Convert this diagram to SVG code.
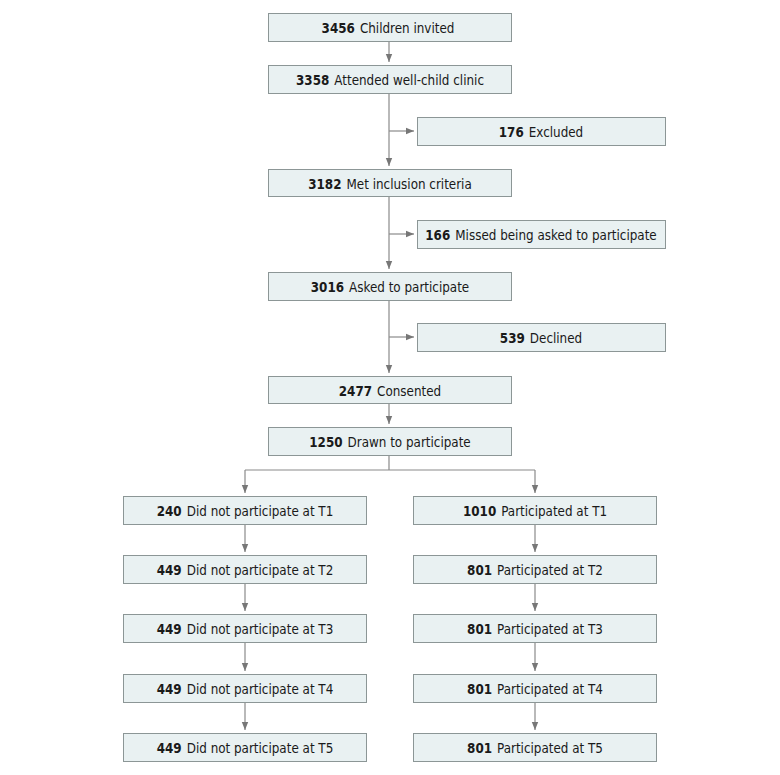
<svg xmlns="http://www.w3.org/2000/svg" width="780" height="775" viewBox="0 0 780 775">
<style>
.box{fill:#e9f1f2;stroke:#8c9696;stroke-width:1}
.t{font-family:"DejaVu Sans Condensed","Liberation Sans",Arial,sans-serif;font-size:13.3px;fill:#1a1a1a;text-anchor:middle}
.n{font-weight:bold}
.c{fill:none;stroke:#8a8a8a;stroke-width:1.2}
</style>
<defs>
<marker id="ah" viewBox="0 0 8 8" refX="8" refY="4" markerWidth="8" markerHeight="8" markerUnits="userSpaceOnUse" orient="auto">
<path d="M0,0.8 L8,4 L0,7.2 Z" fill="#777"/>
</marker>
</defs>
<rect width="780" height="775" fill="#fff"/>
<g id="connectors">
<path class="c" d="M389,41 V62" marker-end="url(#ah)"/>
<path class="c" d="M389,93 V166"  marker-end="url(#ah)"/>
<path class="c" d="M389,131 H414" marker-end="url(#ah)"/>
<path class="c" d="M389,196 V269" marker-end="url(#ah)"/>
<path class="c" d="M389,234 H414" marker-end="url(#ah)"/>
<path class="c" d="M389,300 V373" marker-end="url(#ah)"/>
<path class="c" d="M389,337 H414" marker-end="url(#ah)"/>
<path class="c" d="M389,403 V424" marker-end="url(#ah)"/>
<path class="c" d="M389,455 V470 M245,470 H535"/>
<path class="c" d="M245,470 V493" marker-end="url(#ah)"/>
<path class="c" d="M535,470 V493" marker-end="url(#ah)"/>
<path class="c" d="M245,524 V552" marker-end="url(#ah)"/>
<path class="c" d="M245,583 V611" marker-end="url(#ah)"/>
<path class="c" d="M245,642 V671" marker-end="url(#ah)"/>
<path class="c" d="M245,702 V730" marker-end="url(#ah)"/>
<path class="c" d="M535,524 V552" marker-end="url(#ah)"/>
<path class="c" d="M535,583 V611" marker-end="url(#ah)"/>
<path class="c" d="M535,642 V671" marker-end="url(#ah)"/>
<path class="c" d="M535,702 V730" marker-end="url(#ah)"/>
</g>
<g id="n1"><rect class="box" x="268.5" y="13.5" width="243" height="28"/><text class="t" x="388" y="33"><tspan class="n">3456</tspan><tspan dx="5">Children invited</tspan></text></g>
<g id="n2"><rect class="box" x="268.5" y="65.5" width="243" height="28"/><text class="t" x="390" y="85"><tspan class="n">3358</tspan><tspan dx="5">Attended well-child clinic</tspan></text></g>
<g id="n3"><rect class="box" x="417.5" y="117.5" width="248" height="28"/><text class="t" x="541" y="137"><tspan class="n">176</tspan><tspan dx="5">Excluded</tspan></text></g>
<g id="n4"><rect class="box" x="268.5" y="169.5" width="243" height="27"/><text class="t" x="390" y="188.5"><tspan class="n">3182</tspan><tspan dx="5">Met inclusion criteria</tspan></text></g>
<g id="n5"><rect class="box" x="417.5" y="220.5" width="248" height="28"/><text class="t" x="541" y="240"><tspan class="n">166</tspan><tspan dx="5">Missed being asked to participate</tspan></text></g>
<g id="n6"><rect class="box" x="268.5" y="272.5" width="243" height="28"/><text class="t" x="390" y="292"><tspan class="n">3016</tspan><tspan dx="5">Asked to participate</tspan></text></g>
<g id="n7"><rect class="box" x="417.5" y="323.5" width="248" height="28"/><text class="t" x="541" y="343"><tspan class="n">539</tspan><tspan dx="5">Declined</tspan></text></g>
<g id="n8"><rect class="box" x="268.5" y="376.5" width="243" height="27"/><text class="t" x="390" y="395.5"><tspan class="n">2477</tspan><tspan dx="5">Consented</tspan></text></g>
<g id="n9"><rect class="box" x="268.5" y="427.5" width="243" height="28"/><text class="t" x="390" y="447"><tspan class="n">1250</tspan><tspan dx="5">Drawn to participate</tspan></text></g>
<g id="l1"><rect class="box" x="123.5" y="496.5" width="243" height="28"/><text class="t" x="245" y="516"><tspan class="n">240</tspan><tspan dx="5">Did not participate at T1</tspan></text></g>
<g id="l2"><rect class="box" x="123.5" y="555.5" width="243" height="28"/><text class="t" x="245" y="575"><tspan class="n">449</tspan><tspan dx="5">Did not participate at T2</tspan></text></g>
<g id="l3"><rect class="box" x="123.5" y="614.5" width="243" height="28"/><text class="t" x="245" y="634"><tspan class="n">449</tspan><tspan dx="5">Did not participate at T3</tspan></text></g>
<g id="l4"><rect class="box" x="123.5" y="674.5" width="243" height="28"/><text class="t" x="245" y="694"><tspan class="n">449</tspan><tspan dx="5">Did not participate at T4</tspan></text></g>
<g id="l5"><rect class="box" x="123.5" y="733.5" width="243" height="28"/><text class="t" x="245" y="753"><tspan class="n">449</tspan><tspan dx="5">Did not participate at T5</tspan></text></g>
<g id="r1"><rect class="box" x="413.5" y="496.5" width="243" height="28"/><text class="t" x="535" y="516"><tspan class="n">1010</tspan><tspan dx="5">Participated at T1</tspan></text></g>
<g id="r2"><rect class="box" x="413.5" y="555.5" width="243" height="28"/><text class="t" x="535" y="575"><tspan class="n">801</tspan><tspan dx="5">Participated at T2</tspan></text></g>
<g id="r3"><rect class="box" x="413.5" y="614.5" width="243" height="28"/><text class="t" x="535" y="634"><tspan class="n">801</tspan><tspan dx="5">Participated at T3</tspan></text></g>
<g id="r4"><rect class="box" x="413.5" y="674.5" width="243" height="28"/><text class="t" x="535" y="694"><tspan class="n">801</tspan><tspan dx="5">Participated at T4</tspan></text></g>
<g id="r5"><rect class="box" x="413.5" y="733.5" width="243" height="28"/><text class="t" x="535" y="753"><tspan class="n">801</tspan><tspan dx="5">Participated at T5</tspan></text></g>
</svg>
